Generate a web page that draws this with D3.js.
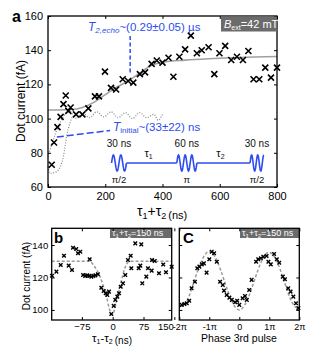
<!DOCTYPE html>
<html><head><meta charset="utf-8">
<script src="https://cdn.jsdelivr.net/npm/d3@7"></script>
<style>
html,body{margin:0;padding:0;background:#fff;}
svg{display:block;font-family:"Liberation Sans",Arial,sans-serif;}
</style></head><body>
<svg id="chart" width="312" height="353"></svg>
<script>
// ---------- Panel a data ----------
const aTime = [13,21,33,44,54,62,71,79,98,120,141,164,178,199,220,238,261,280,298,321,339,362,380,400,421,438,459,479,499,520,537,561,581,599,619,640,660,681,700,718,738,759,779,800];
const aCurrent = [73,86,95,101,108.5,113.5,104.5,106.5,102.5,102.5,106,113,113,127.5,118,117,123,122,121,126,127,132,134,132.7,135.6,124.5,136.2,140.5,148.5,138.2,140,141.7,126,138.2,142.5,134.3,136.2,134.3,139.5,123,123,129.8,124,129.8];
const aFitTime = [0,80,120,160,200,240,280,320,360,400,480,560,640,720,800];
const aFitCurrent = [105,105.3,106.5,109.5,114,118.3,122,126.5,131,133,134.2,135,135.6,136,136.3];
const aDotATime = [0,7,30,54,65,77,88,100,120,145,170,195,220,245,270,295,320,345,370,385,400];
const aDotACurrent = [72,68,69,78,89.6,97.5,101.3,100,103.5,100.5,104,101,104,100.5,103.5,100,103.5,100.5,102.5,99,102.5];
const aDotBTime = [0,18,36,54,77,88];
const aDotBCurrent = [77.7,87.5,95.4,101.3,104.2,101.3];
const aXTicks = [0,200,400,600,800];
const aYTicks = [60,80,100,120,140,160];

// ---------- Panel b data ----------
const bDelta = [-147.7,-137,-126.5,-118.5,-107,-99,-96.6,-88.6,-84.4,-78.8,-72,-67,-62,-57,-52,-47,-42,-36,-56,-27.7,-21.9,-17,-13.1,-9,-3.4,2.4,6.3,11.2,15.3,19.5,25,30.7,37.2,43.8,45.3,55,69.6,63.3,67.2,72,81.8,85.9,95.6,102.2,94.9,112.6,123,129.7,143.6];
const bCurrent = [121.1,123.6,127.7,133.4,127.3,124.6,138.3,137.5,134.9,135.9,121.5,121,121.3,121,120.5,121,121.3,122,131.2,113.7,111.7,110.3,109.2,111.3,97.5,102.5,106.2,108.2,110.3,114.3,116.4,121.5,130.8,133.4,125.7,141,140.4,125.7,127.3,116.4,120.5,125.7,130.8,130.2,124.2,122.6,128,123.2,126.6];
const bFitDelta = [-148.4,-56,-45,-30,-15,-6,-2,3,10,20,30,38,45,143.6];
const bFitCurrent = [130,130,127,120,108,99,97,99,106,117,126,129.5,130,130];
const bXTicks = [-75,0,75,150];
const bYTicks = [100,120,140];

// ---------- Panel c data (phase in units of pi) ----------
const cPhase = [-1.92,-1.83,-1.75,-1.67,-1.59,-1.48,-1.40,-1.33,-1.25,-1.18,-1.09,-1.0,-0.92,-0.84,-0.75,-0.64,-0.55,-0.51,-0.42,-0.33,-0.25,-0.14,-0.07,0,0.11,0.19,0.25,0.33,0.41,0.56,0.63,0.72,0.80,0.91,0.97,1.05,1.16,1.25,1.33,1.45,1.52,1.63,1.71,1.80,1.89,1.97];
const cCurrent = [103.1,103.7,104.1,105.7,113.4,117.4,125.7,126.7,128.1,128.7,123,131.2,135.9,134.9,129.7,117.4,115.4,111.9,109.2,107.6,106.2,104.7,105.7,103.1,107.2,108.6,106.2,112.3,118.5,129.7,131.2,131.8,132.8,133.2,129.7,128.1,134.5,131.2,129.1,120.5,118.9,113.4,111.3,108.2,104.1,101.1];
const cFitPhase = [-2,-1.75,-1.5,-1.25,-1,-0.75,-0.5,-0.25,0,0.25,0.5,0.75,1,1.25,1.5,1.75,2];
const cFitCurrent = [102,105.5,118,130.5,136,130.5,118,105.5,100,105.5,118,130.5,135.5,130,117.5,105,100];
const cXTicks = [-2,-1,0,1,2];
const cXTickLabels = ["-2π","-1π","0","1π","2π"];

const BLUE = "#2d4df0";
const FITGRAY = "#a0a0a0";
const svg = d3.select("#chart");

function crosses(g, xs, ys, x, y, r, sw) {
  g.selectAll(null).data(d3.range(xs.length)).join("path")
    .attr("d", i => { const px = x(xs[i]), py = y(ys[i]);
      return `M${px-r},${py-r}L${px+r},${py+r}M${px-r},${py+r}L${px+r},${py-r}`; })
    .attr("stroke", "#000").attr("stroke-width", sw).attr("fill", "none");
}

function frame(g, x, y, xt, yt, fs, xfmt, yfmt, pad) {
  const [x0, x1] = x.range(), [y0, y1] = y.range();
  const bx = g.append("g").attr("transform", `translate(0,${y0})`)
    .call(d3.axisBottom(x).tickValues(xt).tickSize(-3).tickPadding(pad).tickFormat(xfmt));
  const tx = g.append("g").attr("transform", `translate(0,${y1})`)
    .call(d3.axisTop(x).tickValues(xt).tickSize(-3).tickFormat(""));
  const ly = g.append("g").attr("transform", `translate(${x0},0)`)
    .call(d3.axisLeft(y).tickValues(yt).tickSize(-3).tickPadding(pad).tickFormat(yfmt));
  const ry = g.append("g").attr("transform", `translate(${x1},0)`)
    .call(d3.axisRight(y).tickValues(yt).tickSize(-3).tickFormat(""));
  [bx, tx, ly, ry].forEach(a => {
    a.select(".domain").remove();
    a.selectAll("text").attr("font-size", fs).attr("font-family", "Liberation Sans, Arial, sans-serif").attr("fill", "#000");
    a.selectAll("line").attr("stroke", "#000");
  });
  g.append("rect").attr("x", x0).attr("y", y1).attr("width", x1 - x0).attr("height", y0 - y1)
    .attr("fill", "none").attr("stroke", "#000").attr("stroke-width", 1.3);
  return bx;
}

// ================= Panel a =================
const ax = d3.scaleLinear().domain([0, 800]).range([48, 277]);
const ay = d3.scaleLinear().domain([60, 160]).range([187, 16]);
const ga = svg.append("g");
const lineA = (xs, ys, curve) => d3.line().x(i => ax(xs[i])).y(i => ay(ys[i])).curve(curve)(d3.range(xs.length));

ga.append("path").attr("d", lineA(aDotATime, aDotACurrent, d3.curveMonotoneX))
  .attr("fill", "none").attr("stroke", "#8a8a8a").attr("stroke-width", 1.2).attr("stroke-dasharray", "1,1.6");
ga.append("path").attr("d", lineA(aDotBTime, aDotBCurrent, d3.curveMonotoneX))
  .attr("fill", "none").attr("stroke", "#8a8a8a").attr("stroke-width", 1.2).attr("stroke-dasharray", "1,1.6");
ga.append("path").attr("d", lineA(aFitTime, aFitCurrent, d3.curveMonotoneX))
  .attr("fill", "none").attr("stroke", FITGRAY).attr("stroke-width", 1.6);

// pulse sequence (annotation, placed in data coords)
const pulseY = 163, amp = 8;
const pulses = [
  {s: 222, e: 274, cyc: 2, top: "30 ns", bot: "π/2"},
  {s: 450, e: 520, cyc: 3, top: "60 ns", bot: "π"},
  {s: 706, e: 754, cyc: 2.25, top: "30 ns", bot: "π/2"}
];
const gp = ga.append("g");
pulses.forEach(p => {
  const x0 = ax(p.s), x1 = ax(p.e);
  const pts = d3.range(0, 61).map(k => {
    const t = k / 60; return [x0 + t * (x1 - x0), pulseY - amp * Math.sin(2 * Math.PI * p.cyc * t)];
  });
  gp.append("path").attr("d", d3.line()(pts)).attr("fill", "none").attr("stroke", BLUE).attr("stroke-width", 1.6);
  gp.append("text").attr("x", (x0 + x1) / 2).attr("y", 147).attr("text-anchor", "middle")
    .attr("font-size", 10).attr("fill", "#111").text(p.top);
  gp.append("text").attr("x", (x0 + x1) / 2).attr("y", 183).attr("text-anchor", "middle")
    .attr("font-size", 9.5).attr("fill", "#111").text(p.bot);
});
for (let k = 0; k < 2; k++) {
  const xa = ax(pulses[k].e), xb = ax(pulses[k + 1].s);
  gp.append("line").attr("x1", xa).attr("x2", xb).attr("y1", pulseY).attr("y2", pulseY)
    .attr("stroke", BLUE).attr("stroke-width", 1.6);
  const t = gp.append("text").attr("x", (xa + xb) / 2 - 3).attr("y", 157).attr("text-anchor", "middle")
    .attr("font-size", 11).attr("fill", "#111");
  t.append("tspan").text("τ");
  t.append("tspan").attr("font-size", 7).attr("dy", 2).text(k + 1);
}

crosses(ga, aTime, aCurrent, ax, ay, 3, 1.6);

frame(ga, ax, ay, aXTicks, aYTicks, 11, d3.format("d"), d3.format("d"), 5);

// T2 echo annotation
ga.append("line").attr("x1", ax(287)).attr("x2", ax(287)).attr("y1", 36).attr("y2", 75)
  .attr("stroke", BLUE).attr("stroke-width", 1.5).attr("stroke-dasharray", "4,2.5");
const t2 = ga.append("text").attr("x", 88).attr("y", 31).attr("fill", BLUE).attr("font-size", 11.5);
t2.append("tspan").attr("font-style", "italic").attr("font-size", 12).text("T");
t2.append("tspan").attr("font-style", "italic").attr("font-size", 8).attr("dy", 2).text("2,echo");
t2.append("tspan").attr("dy", -2).text("~(0.29±0.05) µs");

// T initial annotation
ga.append("line").attr("x1", ax(31)).attr("x2", ax(217)).attr("y1", 137).attr("y2", 130.5)
  .attr("stroke", BLUE).attr("stroke-width", 1.5).attr("stroke-dasharray", "7,3");
const ti = ga.append("text").attr("x", 113).attr("y", 131).attr("fill", BLUE).attr("font-size", 11.5);
ti.append("tspan").attr("font-style", "italic").attr("font-size", 12).text("T");
ti.append("tspan").attr("font-size", 8).attr("dy", 2).text("initial");
ti.append("tspan").attr("dy", -2).text("~(33±22) ns");

// B_ext box
ga.append("rect").attr("x", 221).attr("y", 16.5).attr("width", 56).attr("height", 15).attr("fill", "#6b6b6b");
const bt = ga.append("text").attr("x", 224).attr("y", 28).attr("fill", "#fff").attr("font-size", 11);
bt.append("tspan").attr("font-style", "italic").text("B");
bt.append("tspan").attr("font-size", 7).attr("dy", 2).text("ext");
bt.append("tspan").attr("dy", -2).text("=42 mT");

// labels a
svg.append("text").attr("x", 12).attr("y", 22).attr("font-size", 16).attr("font-weight", "bold").text("a");
svg.append("text").attr("transform", "translate(25,101) rotate(-90)").attr("text-anchor", "middle")
  .attr("font-size", 12).text("Dot current (fA)");
const axl = svg.append("text").attr("x", 137).attr("y", 216).attr("font-size", 14);
axl.append("tspan").text("τ");
axl.append("tspan").attr("font-size", 9).attr("dy", 3).text("1");
axl.append("tspan").attr("dy", -3).text("+τ");
axl.append("tspan").attr("font-size", 9).attr("dy", 3).text("2");
axl.append("tspan").attr("font-size", 11).attr("dx", 2).text("(ns)");

// ================= Panel b =================
const bx = d3.scaleLinear().domain([-148.4, 143.6]).range([51.7, 171.7]);
const by = d3.scaleLinear().domain([93.8, 150.3]).range([320, 228.3]);
const gb = svg.append("g");
gb.append("path").attr("d", d3.line().x(i => bx(bFitDelta[i])).y(i => by(bFitCurrent[i])).curve(d3.curveMonotoneX)(d3.range(bFitDelta.length)))
  .attr("fill", "none").attr("stroke", "#9a9a9a").attr("stroke-width", 1.5).attr("stroke-dasharray", "3,2");
crosses(gb, bDelta, bCurrent, bx, by, 1.8, 1.4);
gb.append("rect").attr("x", 110).attr("y", 228.5).attr("width", 61.7).attr("height", 9.5).attr("fill", "#6b6b6b");
const lb = gb.append("text").attr("x", 112).attr("y", 236.3).attr("fill", "#fff").attr("font-size", 9);
lb.append("tspan").text("τ"); lb.append("tspan").attr("font-size", 6).attr("dy", 1.5).text("1");
lb.append("tspan").attr("dy", -1.5).text("+τ"); lb.append("tspan").attr("font-size", 6).attr("dy", 1.5).text("2");
lb.append("tspan").attr("dy", -1.5).text("=150 ns");
const bax = frame(gb, bx, by, bXTicks, bYTicks, 9.5, d3.format("d"), d3.format("d"), 3.5);
bax.selectAll("text").filter(d => d === 150).attr("dx", -9);
svg.append("text").attr("x", 54).attr("y", 243).attr("font-size", 15).attr("font-weight", "bold").text("b");
svg.append("text").attr("transform", "translate(30,276) rotate(-90)").attr("text-anchor", "middle")
  .attr("font-size", 10).text("Dot current (fA)");
const bxl = svg.append("text").attr("x", 92).attr("y", 342).attr("font-size", 11.5);
bxl.append("tspan").text("τ"); bxl.append("tspan").attr("font-size", 7).attr("dy", 2).text("1");
bxl.append("tspan").attr("dy", -2).text("-τ"); bxl.append("tspan").attr("font-size", 7).attr("dy", 2).text("2");
bxl.append("tspan").attr("font-size", 10).attr("dx", 2).text("(ns)");

// ================= Panel c =================
const cx = d3.scaleLinear().domain([-2, 2]).range([179.3, 299.3]);
const cy = by.copy();
const gc = svg.append("g");
gc.append("path").attr("d", d3.line().x(i => cx(cFitPhase[i])).y(i => cy(cFitCurrent[i])).curve(d3.curveNatural)(d3.range(cFitPhase.length)))
  .attr("fill", "none").attr("stroke", "#9a9a9a").attr("stroke-width", 1.5).attr("stroke-dasharray", "3,2");
crosses(gc, cPhase, cCurrent, cx, cy, 1.8, 1.4);
gc.append("rect").attr("x", 240).attr("y", 228.5).attr("width", 59.3).attr("height", 9.5).attr("fill", "#6b6b6b");
const lc = gc.append("text").attr("x", 242).attr("y", 236.3).attr("fill", "#fff").attr("font-size", 9);
lc.append("tspan").text("τ"); lc.append("tspan").attr("font-size", 6).attr("dy", 1.5).text("1");
lc.append("tspan").attr("dy", -1.5).text("+τ"); lc.append("tspan").attr("font-size", 6).attr("dy", 1.5).text("2");
lc.append("tspan").attr("dy", -1.5).text("=150 ns");
frame(gc, cx, cy, cXTicks, bYTicks, 9, (d, i) => cXTickLabels[i], () => "", 3.5);
svg.append("text").attr("x", 183).attr("y", 243).attr("font-size", 15).attr("font-weight", "bold").text("C");
svg.append("text").attr("x", 239).attr("y", 342).attr("text-anchor", "middle").attr("font-size", 10.5).text("Phase 3rd pulse");
</script></body></html>
